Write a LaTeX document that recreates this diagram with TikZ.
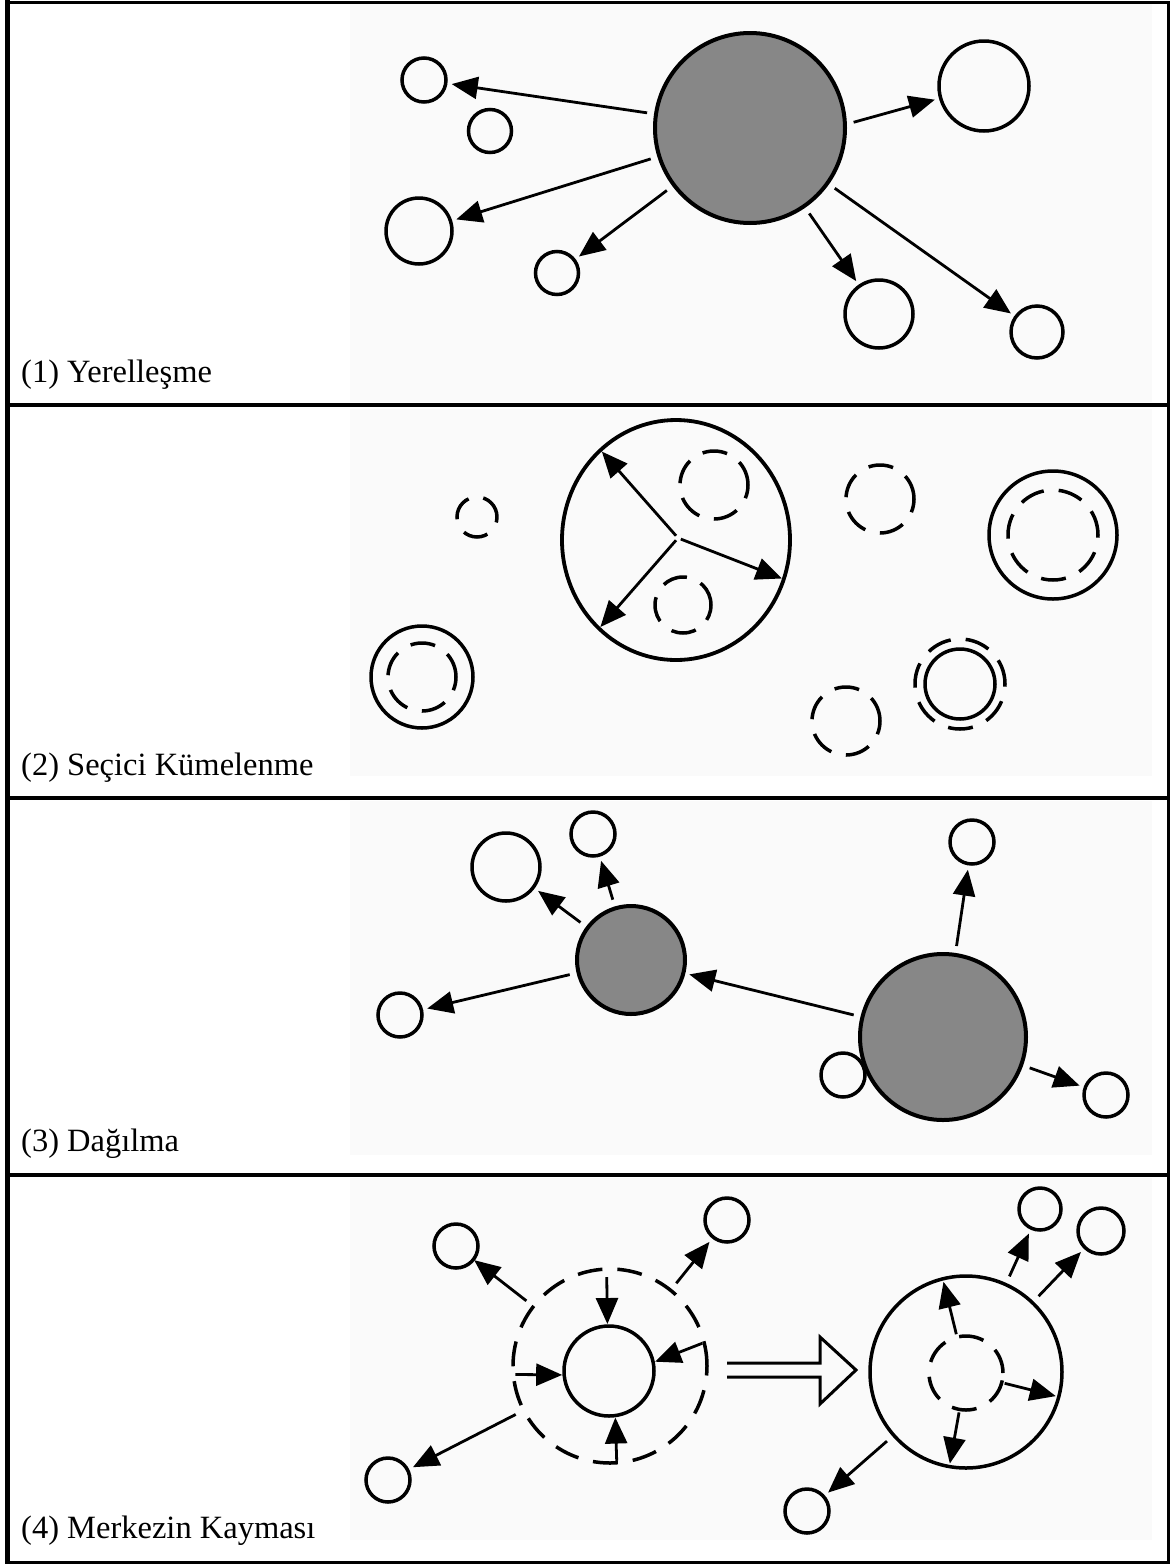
\documentclass[tikz,border=0pt]{standalone}
\usepackage{fontspec}
\setmainfont{Liberation Serif}
\usetikzlibrary{arrows.meta,shapes.geometric}
\begin{document}
\begin{tikzpicture}[x=1pt,y=-1pt,
  circ/.style={circle,draw,line width=3.5pt,inner sep=0pt,outer sep=0pt,minimum size=#1},
  dcirc/.style={circ=#1,dash pattern=on 25pt off 15pt},
  shd/.style={circ=#1,fill=black!47,line width=4pt},
  arr/.style={line width=2.8pt,-{Triangle[length=26pt,width=22pt]},shorten <=9pt,shorten >=6pt},
  lbl/.style={anchor=base west,inner sep=0pt,font=\fontsize{32.5}{39}\selectfont},
  scan/.style={fill=black!2,draw=none}]
\useasboundingbox (0,0) rectangle (1173,1564);
% faint scanned backgrounds
\fill[scan] (350,4) rectangle (1152,402);
\fill[scan] (350,409) rectangle (1152,776);
\fill[scan] (350,801) rectangle (1152,1155);
\fill[scan] (350,1178) rectangle (1152,1540);
% frame
\draw[line width=3pt] (7,2) rectangle (1168,1562);
\draw[line width=5pt] (7,0) -- (7,1564);
\draw[line width=3.5pt] (7,405) -- (1168,405);
\draw[line width=3.5pt] (7,798) -- (1168,798);
\draw[line width=3.5pt] (7,1175) -- (1168,1175);
% labels
\node[lbl] (l1) at (21,382) {(1) Yerelleşme};
\node[lbl] (l2) at (21,775) {(2) Seçici Kümelenme};
\node[lbl] (l3) at (21,1151) {(3) Dağılma};
\node[lbl] (l4) at (21,1538) {(4) Merkezin Kayması};
% ---------- panel 1
\node[shd=190] (p1big) at (750,128) {};
\node[circ=44] (p1a) at (424,80) {};
\node[circ=43] (p1b) at (490,131) {};
\node[circ=66] (p1c) at (419,231) {};
\node[circ=43] (p1d) at (557,273) {};
\node[circ=90] (p1e) at (984,86) {};
\node[circ=68] (p1f) at (879,314) {};
\node[circ=52] (p1g) at (1037,332) {};
\draw[arr] (p1big) -- (p1a);
\draw[arr] (p1big) -- (p1c);
\draw[arr] (p1big) -- (p1d);
\draw[arr] (p1big.2) -- (p1e);
\draw[arr] (p1big) -- (p1f);
\draw[arr] (p1big) -- (p1g);
% ---------- panel 2
\node[draw,ellipse,line width=3.8pt,inner sep=0pt,outer sep=0pt,minimum width=228,minimum height=240] (p2big) at (676,540) {};
\coordinate (p2c) at (678,538);
\node[dcirc=68] (p2in1) at (714,485) {};
\node[dcirc=56] (p2in2) at (683,605) {};
\draw[arr,shorten <=3pt,shorten >=2pt] (p2c) -- (p2big.130);
\draw[arr,shorten <=3pt,shorten >=2pt] (p2c) -- (p2big.-20);
\draw[arr,shorten <=3pt,shorten >=2pt] (p2c) -- (p2big.229);
\node[dcirc=40] (p2a) at (477,517) {};
\node[dcirc=68] (p2b) at (880,499) {};
\node[circ=128] (p2c1) at (1053,535) {};
\node[dcirc=90] (p2c2) at (1053,535) {};
\node[circ=102] (p2d1) at (422,677) {};
\node[dcirc=68] (p2d2) at (422,677) {};
\node[dcirc=68] (p2e) at (846,721) {};
\node[circ=70] (p2f1) at (960,684) {};
\node[dcirc=90] (p2f2) at (960,684) {};
% ---------- panel 3
\node[circ=44] (p3a) at (593,834) {};
\node[circ=68] (p3b) at (506,867) {};
\node[circ=44] (p3c) at (400,1015) {};
\node[circ=44] (p3d) at (972,842) {};
\node[circ=44] (p3e) at (843,1075) {};
\node[circ=44] (p3f) at (1106,1095) {};
\node[shd=108] (p3m) at (631,960) {};
\node[shd=166] (p3big) at (943,1037) {};
\draw[arr] (p3m) -- (p3a);
\draw[arr] (p3m) -- (p3b);
\draw[arr] (p3m) -- (p3c);
\draw[arr] (p3big) -- (p3m);
\draw[arr] (p3big) -- (p3d);
\draw[arr] (p3big) -- (p3f);
% ---------- panel 4 left
\node[dcirc=194] (p4dl) at (610,1366) {};
\node[circ=90] (p4il) at (609,1371) {};
\node[circ=44] (p4a) at (456,1246) {};
\node[circ=44] (p4b) at (727,1220) {};
\node[circ=44] (p4c) at (388,1480) {};
\draw[arr,shorten >=1pt] (p4dl) -- (p4a);
\draw[arr] (p4dl) -- (p4b);
\draw[arr] (p4dl) -- (p4c);
\draw[arr,shorten <=8pt,shorten >=2pt] (p4dl.92) -- (p4il.92);
\draw[arr,shorten <=2pt,shorten >=2pt] (p4dl.14) -- (p4il.11);
\draw[arr,shorten <=2pt,shorten >=2pt] (p4dl.185) -- (p4il.185);
\draw[arr,shorten <=2pt,shorten >=2pt] (p4dl.274) -- (p4il.278);
% transition arrow
\draw[line width=3pt,line join=miter] (727,1363) -- (820,1363) -- (820,1337) -- (856,1370) -- (820,1404) -- (820,1377) -- (727,1377);
% ---------- panel 4 right
\node[circ=192] (p4dr) at (966,1372) {};
\node[dcirc=74] (p4ir) at (966,1373) {};
\node[circ=42] (p4d) at (1040,1209) {};
\node[circ=46] (p4e) at (1101,1231) {};
\node[circ=44] (p4f) at (807,1511) {};
\draw[arr] (p4dr) -- (p4d);
\draw[arr] (p4dr) -- (p4e);
\draw[arr] (p4dr) -- (p4f);
\draw[arr,shorten <=3pt,shorten >=3pt] (p4ir.104) -- (p4dr.104);
\draw[arr,shorten <=3pt,shorten >=3pt] (p4ir.-15) -- (p4dr.-15);
\draw[arr,shorten <=3pt,shorten >=3pt] (p4ir.260) -- (p4dr.260);
\end{tikzpicture}
\end{document}
